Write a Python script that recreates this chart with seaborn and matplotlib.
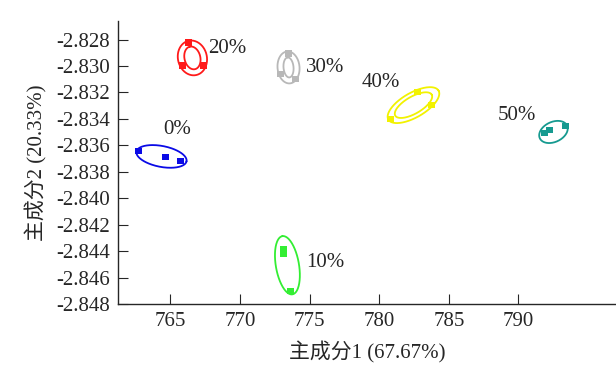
import numpy as np
import pandas as pd
import matplotlib.pyplot as plt
import seaborn as sns

# ------------------------
# Data
# ------------------------
groups = ['0%', '10%', '20%', '30%', '40%', '50%']
colors = ['#0a0ae6', '#33ee33', '#ff1a1a', '#b8b8b8', '#f2f200', '#169a90']

pc1 = {
    '0%':  [762.72, 764.66, 765.73],
    '10%': [773.13, 773.13, 773.63],
    '20%': [766.31, 765.88, 767.38],
    '30%': [773.49, 772.91, 773.99],
    '40%': [782.75, 783.75, 780.81],
    '50%': [793.37, 792.22, 791.86],
}
pc2 = {
    '0%':  [-2.83642, -2.83687, -2.83717],
    '10%': [-2.84386, -2.84424, -2.84702],
    '20%': [-2.82823, -2.82996, -2.82996],
    '30%': [-2.82905, -2.83063, -2.83101],
    '40%': [-2.83199, -2.83296, -2.83402],
    '50%': [-2.83454, -2.83484, -2.83507],
}

# ellipse: centre, semi axes (in PC1 units), angle (deg)
ell_cx = {'0%': 764.37, '10%': 773.41, '20%': 766.59, '30%': 773.49, '40%': 782.46, '50%': 792.51}
ell_cy = {'0%': -2.83684, '10%': -2.84507, '20%': -2.82939, '30%': -2.83011, '40%': -2.83296, '50%': -2.83499}
ell_a = {'0%': [1.83], '10%': [2.12], '20%': [1.26, 0.83], '30%': [1.15, 0.72], '40%': [2.08, 1.51], '50%': [1.08]}
ell_b = {'0%': [0.75], '10%': [0.83], '20%': [1.04, 0.57], '30%': [0.79, 0.36], '40%': [0.88, 0.61], '50%': [0.72]}
ell_ang = {'0%': -11, '10%': 99.8, '20%': 103, '30%': 95, '40%': 30, '50%': 25}

label_x = {'0%': 764.51, '10%': 774.78, '20%': 767.74, '30%': 774.71, '40%': 778.73, '50%': 788.49}
label_y = {'0%': -2.83484, '10%': -2.84484, '20%': -2.82868, '30%': -2.83011, '40%': -2.83123, '50%': -2.83371}

xlim = (761.25, 797)
ylim = (-2.848, -2.8266)
yticks = [-2.848, -2.846, -2.844, -2.842, -2.840, -2.838, -2.836, -2.834, -2.832, -2.830, -2.828]

rows = []
for g in groups:
    for x, y in zip(pc1[g], pc2[g]):
        rows.append({'group': g, 'pc1': x, 'pc2': y})
df = pd.DataFrame(rows)

# ------------------------
# Plot
# ------------------------
sns.set_style('ticks')
plt.rcParams['font.family'] = ['Liberation Serif', 'Noto Sans CJK SC']

fig = plt.figure(figsize=(6.16, 3.67), dpi=100)
pos = [0.1916, 0.1717, 0.8084, 0.771]
ax = fig.add_axes(pos)

sns.scatterplot(data=df, x='pc1', y='pc2', hue='group', hue_order=groups,
                palette=colors, marker='s', s=20, linewidth=0, legend=False,
                ax=ax, zorder=3)

# y units per x unit so the ellipse is drawn in an isotropic frame
k = (ylim[1] - ylim[0]) / (xlim[1] - xlim[0]) * (pos[2] * 616) / (pos[3] * 367)
t = np.linspace(0, 2 * np.pi, 200)
for g, c in zip(groups, colors):
    th = np.deg2rad(ell_ang[g])
    for a, b in zip(ell_a[g], ell_b[g]):
        ex = a * np.cos(t) * np.cos(th) - b * np.sin(t) * np.sin(th)
        ey = a * np.cos(t) * np.sin(th) + b * np.sin(t) * np.cos(th)
        ax.plot(ell_cx[g] + ex, ell_cy[g] + ey * k, color=c, lw=1.3)
    ax.text(label_x[g], label_y[g], g, fontsize=15, ha='left', va='center')

ax.set_xlim(*xlim)
ax.set_ylim(*ylim)
ax.set_xticks([765, 770, 775, 780, 785, 790])
ax.set_yticks(yticks)
ax.set_yticklabels([f'{v:.3f}' for v in yticks])
ax.tick_params(axis='x', direction='in', length=7, labelsize=15, pad=6)
ax.tick_params(axis='y', direction='in', length=7, labelsize=15, pad=6)
ax.set_xlabel('主成分1 (67.67%)', fontsize=15, labelpad=7)
ax.set_ylabel('主成分2 (20.33%)', fontsize=15, labelpad=6)
sns.despine(ax=ax)
for s in ['left', 'bottom']:
    ax.spines[s].set_linewidth(1.0)

fig.savefig('out.png', dpi=100)
